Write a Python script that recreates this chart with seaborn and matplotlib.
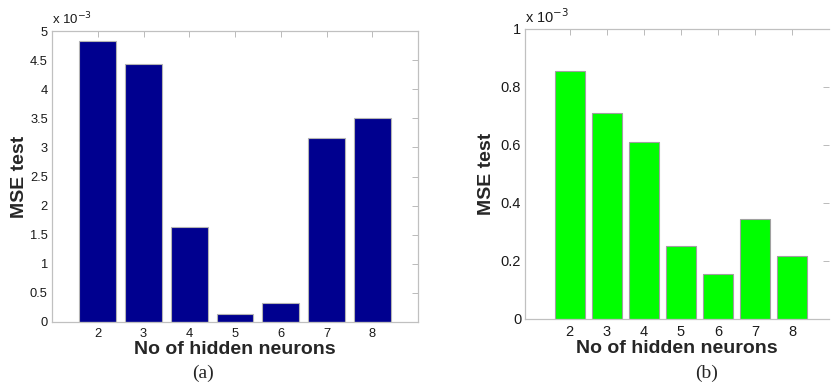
import matplotlib
matplotlib.use("Agg")
import matplotlib.pyplot as plt
import seaborn as sns
import pandas as pd

# valeurs (en unites de 1e-3)
neurons = [2, 3, 4, 5, 6, 7, 8]
mse_a = [4.82, 4.44, 1.63, 0.13, 0.33, 3.17, 3.51]
mse_b = [0.855, 0.711, 0.609, 0.253, 0.154, 0.345, 0.217]

sns.set_style("white")
plt.rcParams['font.family'] = ['Liberation Sans', 'DejaVu Sans']

fig = plt.figure(figsize=(8.31, 3.84), dpi=100)
ax1 = fig.add_axes([52/831, 62/384, 366/831, 291/384])
ax2 = fig.add_axes([525.3/831, 65/384, 304/831, 290/384])

df_a = pd.DataFrame({'n': neurons, 'mse': mse_a})
df_b = pd.DataFrame({'n': neurons, 'mse': mse_b})

sns.barplot(data=df_a, x='n', y='mse', native_scale=True, color='#00008f',
            saturation=1, width=0.8, edgecolor='#b4b4b4', linewidth=0.8, ax=ax1)
sns.barplot(data=df_b, x='n', y='mse', native_scale=True, color='#00ff00',
            saturation=1, width=0.8, edgecolor='#a0a0a0', linewidth=0.8, ax=ax2)

def style(ax, xlim, ymax, yticks, fs, ypad, offs):
    ax.set_xlim(*xlim)
    ax.set_ylim(0, ymax)
    ax.set_xticks(neurons)
    ax.set_xticklabels([str(n) for n in neurons], fontsize=fs)
    ax.set_yticks(yticks)
    ax.set_yticklabels(['%g' % t for t in yticks], fontsize=fs)
    ax.tick_params(direction='in', length=4, width=0.6, color='#b0b0b0',
                   top=True, right=True, pad=3, labelcolor='#1a1a1a')
    ax.tick_params(axis='x', pad=4)
    for s in ax.spines.values():
        s.set_color('#c0c0c0')
        s.set_linewidth(0.9)
    ax.set_xlabel('No of hidden neurons', fontsize=14, fontweight='bold', labelpad=1)
    ax.set_ylabel('MSE test', fontsize=14, fontweight='bold', labelpad=ypad)
    ax.text(0.0, 1.012, r'x 10$^{-3}$', transform=ax.transAxes, fontsize=offs,
            ha='left', va='bottom', color='#1a1a1a')

style(ax1, (1, 9), 5, [0, 0.5, 1, 1.5, 2, 2.5, 3, 3.5, 4, 4.5, 5], 9.3, 1.5, 9.5)
style(ax2, (0.8, 9), 1, [0, 0.2, 0.4, 0.6, 0.8, 1], 10.5, 4, 10.5)
ax2.spines['right'].set_visible(False)

fig.text(203/831, 1 - 373/384, '(a)', family=['Liberation Serif', 'DejaVu Serif'],
         fontsize=14, ha='center', va='center')
fig.text(707/831, 1 - 373/384, '(b)', family=['Liberation Serif', 'DejaVu Serif'],
         fontsize=14, ha='center', va='center')

fig.savefig('out.png', dpi=100)
